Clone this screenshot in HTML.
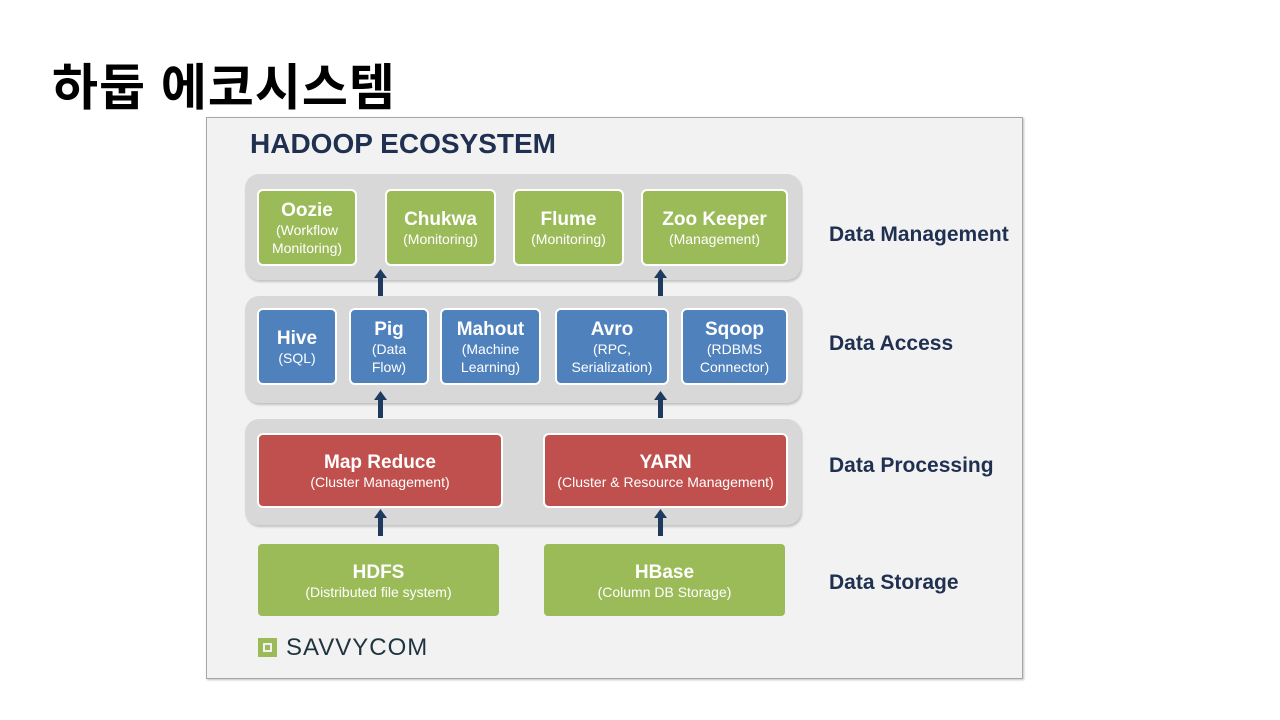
<!DOCTYPE html>
<html><head><meta charset="utf-8"><style>
*{margin:0;padding:0;box-sizing:border-box}
body{width:1280px;height:720px;background:#fff;position:relative;overflow:hidden;font-family:"Liberation Sans","Noto Sans CJK KR",sans-serif}
.a{position:absolute}
.frame{left:206px;top:117px;width:817px;height:562px;background:#f2f2f2;border:1px solid #a6a6a6;box-shadow:1px 1px 2px rgba(0,0,0,.25)}
.band{background:#d8d8d8;border-radius:14px;box-shadow:1px 2px 2px rgba(0,0,0,.2)}
.b{position:absolute;border:2px solid #fff;border-radius:6px;color:#fff;display:flex;flex-direction:column;align-items:center;justify-content:center;text-align:center;font-family:"Liberation Sans",sans-serif;line-height:18px;padding-top:2px}
.b b{font-size:19px;line-height:21px}
.b span{font-size:14px}
.g{background:#9bbb59}.bl{background:#4f81bd}.r{background:#c0504d}
.lab{font-weight:bold;font-size:21px;color:#1f3050}
</style></head><body>
<div class="a" style="left:52px;top:48px;font-size:50px;font-weight:bold;color:#000;letter-spacing:1px">하둡 에코시스템</div>
<div class="a frame"></div>
<div class="a" style="left:250px;top:128px;font-size:28px;font-weight:bold;color:#1f3050">HADOOP ECOSYSTEM</div>

<div class="a band" style="left:245px;top:174px;width:556px;height:106px"></div>
<div class="a band" style="left:245px;top:296px;width:556px;height:107px"></div>
<div class="a band" style="left:245px;top:419px;width:556px;height:106px"></div>

<div class="b g" style="left:257px;top:189px;width:100px;height:77px"><b>Oozie</b><span>(Workflow<br>Monitoring)</span></div>
<div class="b g" style="left:385px;top:189px;width:111px;height:77px"><b>Chukwa</b><span>(Monitoring)</span></div>
<div class="b g" style="left:513px;top:189px;width:111px;height:77px"><b>Flume</b><span>(Monitoring)</span></div>
<div class="b g" style="left:641px;top:189px;width:147px;height:77px"><b>Zoo Keeper</b><span>(Management)</span></div>

<div class="b bl" style="left:257px;top:308px;width:80px;height:77px"><b>Hive</b><span>(SQL)</span></div>
<div class="b bl" style="left:349px;top:308px;width:80px;height:77px"><b>Pig</b><span>(Data<br>Flow)</span></div>
<div class="b bl" style="left:440px;top:308px;width:101px;height:77px"><b>Mahout</b><span>(Machine<br>Learning)</span></div>
<div class="b bl" style="left:555px;top:308px;width:114px;height:77px"><b>Avro</b><span>(RPC,<br>Serialization)</span></div>
<div class="b bl" style="left:681px;top:308px;width:107px;height:77px"><b>Sqoop</b><span>(RDBMS<br>Connector)</span></div>

<div class="b r" style="left:257px;top:433px;width:246px;height:75px"><b>Map Reduce</b><span>(Cluster Management)</span></div>
<div class="b r" style="left:543px;top:433px;width:245px;height:75px"><b>YARN</b><span>(Cluster &amp; Resource Management)</span></div>

<div class="b g" style="left:256px;top:542px;width:245px;height:76px;border-color:#f2f2f2"><b>HDFS</b><span>(Distributed file system)</span></div>
<div class="b g" style="left:542px;top:542px;width:245px;height:76px;border-color:#f2f2f2"><b>HBase</b><span>(Column DB Storage)</span></div>

<svg class="a" style="left:0;top:0" width="1280" height="720">
<g fill="#1f3a5f">
<path d="M378 296h5v-18h4l-6.5-9-6.5 9h4z"/>
<path d="M658 296h5v-18h4l-6.5-9-6.5 9h4z"/>
<path d="M378 418h5v-18h4l-6.5-9-6.5 9h4z"/>
<path d="M658 418h5v-18h4l-6.5-9-6.5 9h4z"/>
<path d="M378 536h5v-18h4l-6.5-9-6.5 9h4z"/>
<path d="M658 536h5v-18h4l-6.5-9-6.5 9h4z"/>
</g>
<rect x="258" y="638" width="19" height="19" fill="#9bbb59"/>
<rect x="263" y="643" width="9" height="9" fill="#f2f2f2"/>
<rect x="265" y="645" width="5" height="5" fill="#9bbb59"/>
</svg>
<div class="a" style="left:286px;top:634px;font-size:24px;color:#1e3540;letter-spacing:1px">SAVVYCOM</div>

<div class="a lab" style="left:829px;top:223px">Data Management</div>
<div class="a lab" style="left:829px;top:332px">Data Access</div>
<div class="a lab" style="left:829px;top:454px">Data Processing</div>
<div class="a lab" style="left:829px;top:571px">Data Storage</div>
</body></html>
